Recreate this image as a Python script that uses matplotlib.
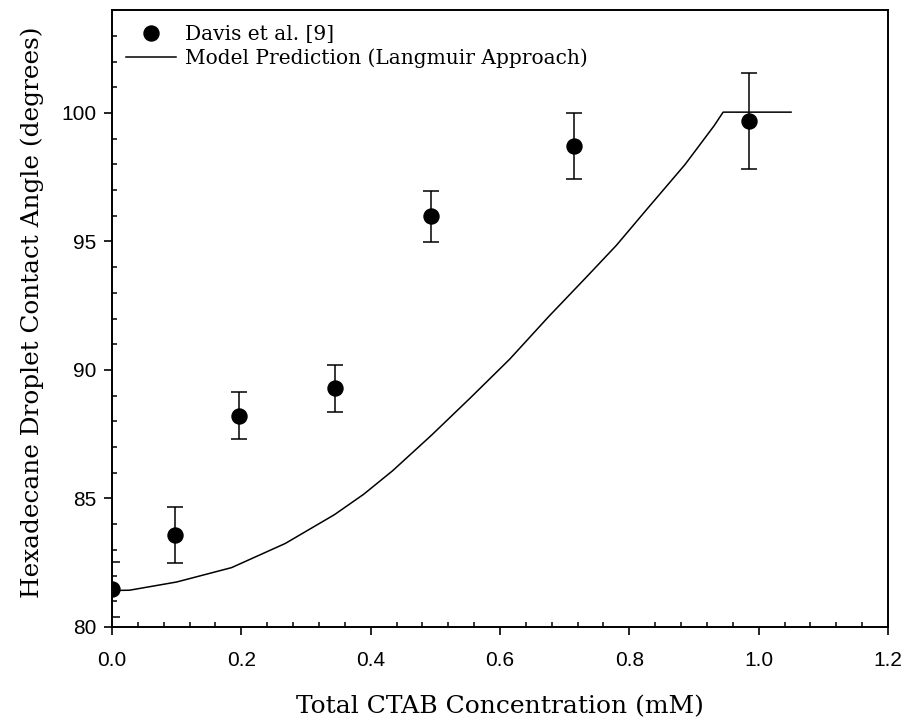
import matplotlib
matplotlib.use('Agg')
from matplotlib import pyplot as plt
from matplotlib.ticker import MultipleLocator

# dados experimentais (Davis et al.)
conc = [0.0, 0.098, 0.197, 0.345, 0.494, 0.714, 0.985]
angle = [81.47, 83.58, 88.22, 89.28, 95.98, 98.72, 99.68]
err = [1.07, 1.08, 0.92, 0.90, 1.00, 1.29, 1.88]

# curva do modelo (Langmuir)
model_x = [0.0, 0.027, 0.10, 0.185, 0.268, 0.344, 0.389, 0.434, 0.494, 0.554,
           0.615, 0.675, 0.735, 0.780, 0.826, 0.886, 0.931, 0.945, 1.05]
model_y = [81.42, 81.43, 81.75, 82.31, 83.25, 84.37, 85.16, 86.08, 87.46, 88.91,
           90.42, 92.07, 93.65, 94.85, 96.22, 97.99, 99.50, 100.03, 100.03]

xticks = [0.0, 0.2, 0.4, 0.6, 0.8, 1.0, 1.2]
xtick_labels = ['0.0', '0.2', '0.4', '0.6', '0.8', '1.0', '1.2']
yticks = [80, 85, 90, 95, 100]

serif = 'DejaVu Serif'
plt.rcParams['font.family'] = 'Liberation Sans'

fig = plt.figure(figsize=(9.06, 7.21), dpi=100)
ax = fig.add_axes([0.1236, 0.1304, 0.8566, 0.8556])

ax.errorbar(conc, angle, yerr=err, fmt='none', ecolor='black', elinewidth=1.1,
            capsize=6, capthick=1.1, zorder=2)
ax.plot(conc, angle, 'o', color='black', markersize=10.8, label='Davis et al. [9]', zorder=3)
ax.plot(model_x, model_y, '-', color='black', linewidth=1.1,
        label='Model Prediction (Langmuir Approach)', zorder=2)

ax.set_xlim(0, 1.2)
ax.set_ylim(80, 104)
ax.set_xticks(xticks)
ax.set_xticklabels(xtick_labels)
ax.set_yticks(yticks)
ax.xaxis.set_minor_locator(MultipleLocator(0.04))
ax.yaxis.set_minor_locator(MultipleLocator(1))
ax.tick_params(which='major', direction='out', length=6, width=1.2, labelsize=15)
ax.tick_params(which='minor', direction='in', length=3.6, width=1.1)
ax.tick_params(axis='x', which='major', pad=11)
ax.tick_params(axis='y', which='major', pad=5)
for s in ax.spines.values():
    s.set_linewidth(1.4)

fig.text(500 / 906, 1 - 713 / 721, 'Total CTAB Concentration (mM)', family=serif,
         fontsize=18, ha='center', va='baseline')
fig.text(32 / 906, 1 - 312 / 721, 'Hexadecane Droplet Contact Angle (degrees)',
         family=serif, fontsize=17.8, ha='center', va='center', rotation=90)

ax.legend(loc='upper left', bbox_to_anchor=(0.018, 0.976), frameon=False,
          prop={'family': serif, 'size': 14.5}, borderpad=0, borderaxespad=0,
          handlelength=2.5, handletextpad=0.45, labelspacing=0.2, numpoints=1)

fig.savefig('out.png', dpi=100)
